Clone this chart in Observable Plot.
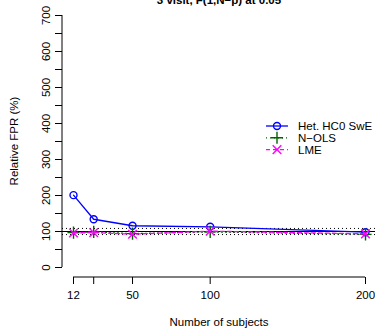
<!DOCTYPE html>
<html><head><meta charset="utf-8">
<script src="https://cdn.jsdelivr.net/npm/d3@7"></script>
<script src="https://cdn.jsdelivr.net/npm/@observablehq/plot@0.6"></script>
<style>
body{margin:0;background:#fff;}
svg{font-family:"Liberation Sans",Arial,Helvetica,sans-serif;}
</style>
</head><body><div id="chart"></div>
<script>
const subjects = [12, 25, 50, 100, 200];
const hetHC0SwE = [201, 134, 116, 113, 98];
const nOLS = [97, 99, 94, 99, 92];
const lme = [96, 97, 92.5, 101, 93.5];
const xTicks = [12, 25, 50, 100, 200];
const xTickLabels = ["12", "", "50", "100", "200"];
const yTicks = d3.range(0, 701, 50);
const yLabeled = [0, 100, 200, 300, 400, 500, 600, 700];
const refLine = [100];
const ciBounds = [91.5, 108.5];
const seriesNames = ["Het. HC0 SwE", "N\u2212OLS", "LME"];
const seriesColors = ["#0000ff", "#006400", "#ff00ff"];
const seriesSymbols = ["circle", "plus", "times"];
const seriesDash = [null, "1,3", "4,3"];
const titleText = "3 visit, F(1,N\u2212p) at 0.05";
const xTitle = "Number of subjects";
const yTitle = "Relative FPR (%)";

const seriesValues = [hetHC0SwE, nOLS, lme];
const seriesData = seriesNames.map((name, k) =>
  subjects.map((n, i) => ({series: name, n, v: seriesValues[k][i]})));

const dataMarks = seriesData.flatMap((rows, k) => [
  Plot.line(rows, {x: "n", y: "v", stroke: seriesColors[k], strokeWidth: 1.3,
    strokeDasharray: seriesDash[k] || undefined}),
  Plot.dot(rows, {x: "n", y: "v", stroke: seriesColors[k], symbol: seriesSymbols[k],
    r: k === 0 ? 3.5 : 4, strokeWidth: 1.4, fill: "none"})
]);

const FS = 11.5;
const chart = Plot.plot({
  width: 375, height: 332,
  marginLeft: 62, marginRight: 0, marginTop: 5, marginBottom: 55,
  style: {fontFamily: '"Liberation Sans",Arial,sans-serif', fontSize: FS + "px", background: "white", color: "black"},
  x: {domain: [12, 200], range: [73, 365]},
  y: {domain: [0, 700], range: [267, 15]},
  marks: [
    Plot.ruleY(refLine, {stroke: "black", strokeWidth: 1}),
    Plot.ruleY(ciBounds, {stroke: "black", strokeWidth: 1, strokeDasharray: "1,3"}),
    Plot.axisX({ticks: xTicks, tickFormat: (d) => xTickLabels[xTicks.indexOf(d)], tickSize: 7, tickPadding: 6, label: null, fontSize: FS}),
    Plot.axisY({ticks: yTicks, tickFormat: (d) => yLabeled.includes(d) ? String(d) : "", tickSize: 7, tickPadding: 6, tickRotate: -90, label: null, fontSize: FS}),
    ...dataMarks
  ]
});

const svg = d3.select(chart.tagName.toLowerCase() === "svg" ? chart : chart.querySelector("svg"));
const xs = chart.scale("x"), ys = chart.scale("y");
// axis lines (R style, spanning tick range)
svg.append("line").attr("x1", xs.apply(12)).attr("x2", xs.apply(200)).attr("y1", 277).attr("y2", 277)
  .attr("stroke", "black");
svg.append("line").attr("x1", 62).attr("x2", 62).attr("y1", ys.apply(0)).attr("y2", ys.apply(700))
  .attr("stroke", "black");
const cx = (xs.apply(12) + xs.apply(200)) / 2;
// title (partly cut at top, as in the reference)
svg.append("text").attr("x", cx).attr("y", 4)
  .attr("text-anchor", "middle").attr("font-weight", "bold").attr("font-size", FS).text(titleText);
svg.append("text").attr("x", cx).attr("y", 326)
  .attr("text-anchor", "middle").attr("font-size", FS).text(xTitle);
svg.append("text").attr("transform", `translate(18,141) rotate(-90)`)
  .attr("text-anchor", "middle").attr("font-size", FS).text(yTitle);
// legend
const lg = svg.append("g");
seriesNames.forEach((name, k) => {
  const y = 126 + k * 11.8;
  lg.append("line").attr("x1", 266).attr("x2", 288).attr("y1", y).attr("y2", y)
    .attr("stroke", seriesColors[k]).attr("stroke-width", 1.3)
    .attr("stroke-dasharray", seriesDash[k] || null);
  const sym = d3.symbol().type(k === 0 ? d3.symbolCircle : (k === 1 ? d3.symbolPlus : d3.symbolTimes)).size(k === 0 ? 38 : 50);
  lg.append("path").attr("d", sym()).attr("transform", `translate(277,${y})`)
    .attr("fill", "none").attr("stroke", seriesColors[k]).attr("stroke-width", 1.4);
  lg.append("text").attr("x", 298).attr("y", y).attr("dy", "0.35em").attr("text-anchor", "start")
    .attr("font-size", FS).text(name);
});
document.getElementById("chart").appendChild(chart);
</script>
</body></html>
